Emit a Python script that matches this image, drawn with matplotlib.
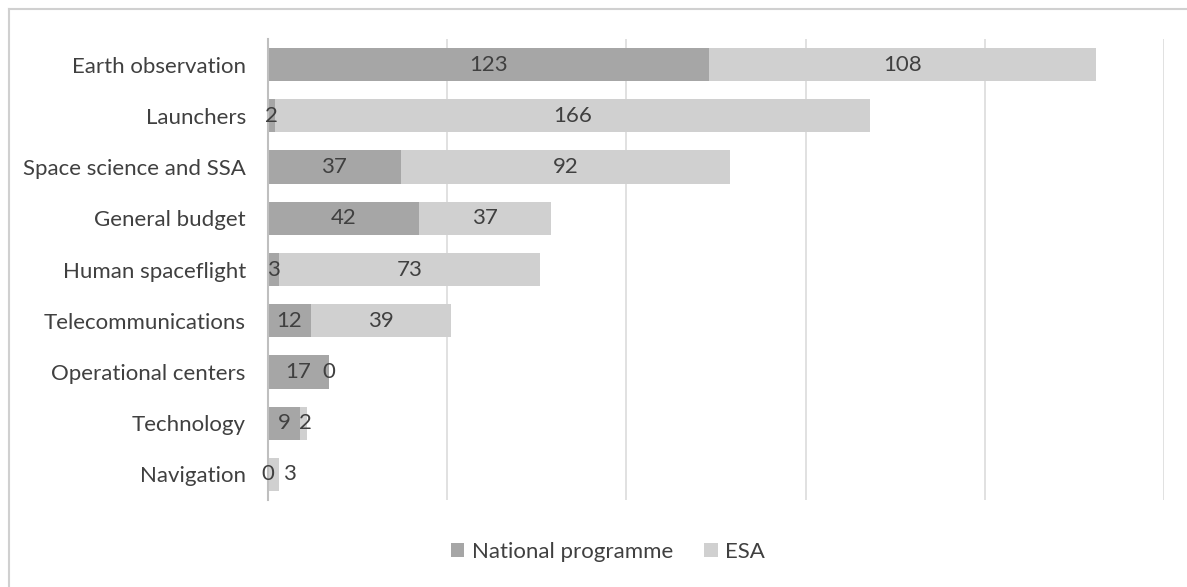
import matplotlib
matplotlib.use("Agg")
import matplotlib.pyplot as plt
from matplotlib.lines import Line2D

categories = ["Earth observation", "Launchers", "Space science and SSA", "General budget",
              "Human spaceflight", "Telecommunications", "Operational centers", "Technology", "Navigation"]
national = [123, 2, 37, 42, 3, 12, 17, 9, 0]
esa = [108, 166, 92, 37, 73, 39, 0, 2, 3]
series_names = ["National programme", "ESA"]

c_nat = "#a6a6a6"
c_esa = "#d0d0d0"
txt = "#404040"
fs = 16

plt.rcParams['font.family'] = ['Lato', 'DejaVu Sans']

fig = plt.figure(figsize=(11.87, 5.87), dpi=100)
ax = fig.add_axes([268/1187, 1-500/587, (1164-268)/1187, (500-39)/587])

y = list(range(len(categories)))
h = 0.65
b1 = ax.barh(y, national, height=h, color=c_nat, label=series_names[0], zorder=2)
b2 = ax.barh(y, esa, left=national, height=h, color=c_esa, label=series_names[1], zorder=2)

ax.set_xlim(0, 250)
ax.set_ylim(len(categories)-0.5, -0.5)
ax.set_xticks(range(0, 251, 50))
ax.set_xticklabels([])
ax.tick_params(axis='x', length=0)
ax.tick_params(axis='y', length=0, pad=16, labelsize=fs, labelcolor=txt)
ax.set_yticks(y)
ax.set_yticklabels(categories)
ax.grid(axis='x', color='#dcdcdc', linewidth=1.2, zorder=3)
for s in ['top', 'right', 'bottom']:
    ax.spines[s].set_visible(False)
ax.spines['left'].set_color('#bfbfbf')
ax.spines['left'].set_linewidth(1.5)
ax.spines['left'].set_zorder(4)

# data labels, centered in segments, nudged apart when overlapping
fig.canvas.draw()
px_per_unit = ax.transData.transform((1, 0))[0] - ax.transData.transform((0, 0))[0]
min_sep_px = 21
for i in range(len(categories)):
    c1 = national[i] / 2
    c2 = national[i] + esa[i] / 2
    ax.annotate(str(national[i]), (c1, i), ha='center', va='center', fontsize=fs, color=txt, zorder=5)
    sep = (c2 - c1) * px_per_unit
    shift = max(0, min_sep_px - sep) * 72 / 100
    ax.annotate(str(esa[i]), (c2, i), xytext=(shift, 0), textcoords='offset points',
                ha='center', va='center', fontsize=fs, color=txt, zorder=5)

leg = fig.legend(handles=[b1, b2], loc='center', bbox_to_anchor=(608/1187, 1-552/587), ncol=2,
                 frameon=False, fontsize=fs, handlelength=0.6, handleheight=0.6,
                 handletextpad=0.35, columnspacing=1.4)
for t in leg.get_texts():
    t.set_color(txt)

fig.add_artist(Line2D([9/1187, 9/1187], [0, 1-9/587], transform=fig.transFigure, color='#d0d0d0', linewidth=1.5))
fig.add_artist(Line2D([9/1187, 1], [1-9/587, 1-9/587], transform=fig.transFigure, color='#d0d0d0', linewidth=1.5))

fig.savefig("out.png", dpi=100)
